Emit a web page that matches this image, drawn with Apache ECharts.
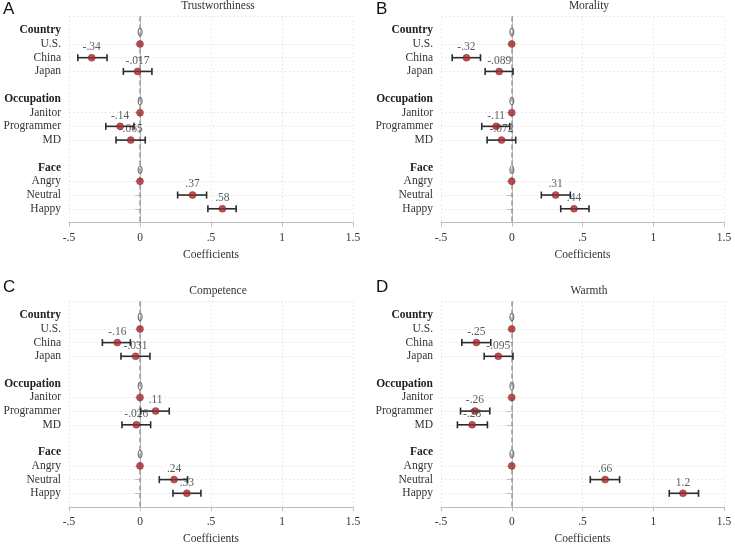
<!DOCTYPE html>
<html>
<head>
<meta charset="utf-8">
<script src="https://cdn.jsdelivr.net/npm/echarts@6/dist/echarts.min.js"></script>
<style>html,body{margin:0;padding:0;background:#fff}#c{width:735px;height:554px}</style>
</head>
<body>
<div id="c"></div>
<script>
// ---- data ----
const groups = ['Country', 'Occupation', 'Face'];
const groupItems = [['U.S.', 'China', 'Japan'], ['Janitor', 'Programmer', 'MD'], ['Angry', 'Neutral', 'Happy']];
const panelTitles = ['Trustworthiness', 'Morality', 'Competence', 'Warmth'];
const panelLetters = ['A', 'B', 'C', 'D'];
const xTickLabels = {'-0.5': '-.5', '0': '0', '0.5': '.5', '1': '1', '1.5': '1.5'};

const trustCoef   = [0, -0.34, -0.017, 0, -0.14, -0.065, 0, 0.37, 0.58];
const trustLow    = [null, -0.438, -0.117, null, -0.241, -0.169, null, 0.265, 0.478];
const trustHigh   = [null, -0.232, 0.084, null, -0.042, 0.037, null, 0.469, 0.677];
const trustLabels = ['0', '-.34', '-.017', '0', '-.14', '-.065', '0', '.37', '.58'];

const moralCoef   = [0, -0.32, -0.089, 0, -0.11, -0.072, 0, 0.31, 0.44];
const moralLow    = [null, -0.421, -0.188, null, -0.212, -0.174, null, 0.209, 0.346];
const moralHigh   = [null, -0.221, 0.009, null, -0.014, 0.028, null, 0.414, 0.546];
const moralLabels = ['0', '-.32', '-.089', '0', '-.11', '-.072', '0', '.31', '.44'];

const compCoef    = [0, -0.16, -0.031, 0, 0.11, -0.026, 0, 0.24, 0.33];
const compLow     = [null, -0.265, -0.134, null, 0.005, -0.127, null, 0.136, 0.232];
const compHigh    = [null, -0.068, 0.070, null, 0.206, 0.075, null, 0.335, 0.429];
const compLabels  = ['0', '-.16', '-.031', '0', '.11', '-.026', '0', '.24', '.33'];

const warmCoef    = [0, -0.25, -0.095, 0, -0.26, -0.28, 0, 0.66, 1.21];
const warmLow     = [null, -0.353, -0.195, null, -0.362, -0.384, null, 0.555, 1.113];
const warmHigh    = [null, -0.148, 0.009, null, -0.155, -0.172, null, 0.762, 1.32];
const warmLabels  = ['0', '-.25', '-.095', '0', '-.26', '-.28', '0', '.66', '1.2'];

// ---- build ----
const panels = [
  {coef: trustCoef, low: trustLow, high: trustHigh, labels: trustLabels},
  {coef: moralCoef, low: moralLow, high: moralHigh, labels: moralLabels},
  {coef: compCoef, low: compLow, high: compHigh, labels: compLabels},
  {coef: warmCoef, low: warmLow, high: warmHigh, labels: warmLabels}
];

const rows = [];
const headerSet = new Set(groups);
const itemSet = new Set();
const itemRow = [];
let blank = 1;
rows.push(' '.repeat(blank++));
groups.forEach((g, gi) => {
  rows.push(g);
  groupItems[gi].forEach(it => { itemRow.push(rows.length); itemSet.add(it); rows.push(it); });
  rows.push(' '.repeat(blank++));
});

const SERIF = 'Liberation Serif';
const TXT = '#333';
const FS = 11.5;

const layout = [
  {left: 69, top: 16.5, width: 284, height: 206, titleX: 218, titleY: 0, letterX: 3, letterY: 1},
  {left: 441, top: 16.5, width: 283, height: 206, titleX: 589, titleY: 0, letterX: 376, letterY: 1},
  {left: 69, top: 301.5, width: 284, height: 205.5, titleX: 218, titleY: 285, letterX: 3, letterY: 279},
  {left: 441, top: 301.5, width: 283, height: 205.5, titleX: 589, titleY: 285, letterX: 376, letterY: 279}
];

const grid = [], xAxis = [], yAxis = [], series = [], title = [], graphic = [];

layout.forEach((L, i) => {
  grid.push({left: L.left, top: L.top, width: L.width, height: L.height, containLabel: false});
  xAxis.push({
    type: 'value', gridIndex: i, min: -0.5, max: 1.5, interval: 0.5,
    axisLine: {show: true, lineStyle: {color: '#bdbdbd', width: 1}},
    axisTick: {show: true, length: 4, lineStyle: {color: '#bdbdbd'}},
    axisLabel: {margin: 9, color: TXT, fontFamily: SERIF, fontSize: FS,
      formatter: v => xTickLabels[String(v)] !== undefined ? xTickLabels[String(v)] : String(v)},
    splitLine: {show: true, lineStyle: {color: '#d9d9d9', type: [1, 3], width: 1}},
    name: 'Coefficients', nameLocation: 'middle', nameGap: 26,
    nameTextStyle: {color: TXT, fontFamily: SERIF, fontSize: FS}
  });
  yAxis.push({
    type: 'category', gridIndex: i, data: rows, inverse: true, boundaryGap: false,
    axisLine: {show: true, lineStyle: {color: '#bdbdbd', width: 1}},
    axisTick: {show: true, length: 5, interval: (idx, val) => itemSet.has(val), lineStyle: {color: '#bdbdbd'}},
    axisLabel: {interval: 0, margin: 8, color: TXT, fontFamily: SERIF, fontSize: FS,
      formatter: v => headerSet.has(v) ? '{h|' + v + '}' : v.trim(),
      rich: {h: {fontWeight: 'bold', fontFamily: SERIF, fontSize: FS, color: '#222'}}},
    splitLine: {show: true, interval: (idx, val) => idx === 0 || itemSet.has(val),
      lineStyle: {color: '#d9d9d9', type: [1, 3], width: 1}}
  });
  const P = panels[i];
  const barData = [];
  P.coef.forEach((c, k) => {
    if (P.low[k] !== null) barData.push([P.low[k], P.high[k], itemRow[k]]);
  });
  series.push({
    type: 'custom', xAxisIndex: i, yAxisIndex: i, z: 3, silent: true,
    encode: {x: [0, 1], y: 2},
    data: barData,
    renderItem: (params, api) => {
      const a = api.coord([api.value(0), api.value(2)]);
      const b = api.coord([api.value(1), api.value(2)]);
      const h = 3.5;
      const st = {stroke: '#2b2b2b', lineWidth: 1.6};
      return {type: 'group', children: [
        {type: 'line', shape: {x1: a[0], y1: a[1], x2: b[0], y2: b[1]}, style: st},
        {type: 'line', shape: {x1: a[0], y1: a[1] - h, x2: a[0], y2: a[1] + h}, style: st},
        {type: 'line', shape: {x1: b[0], y1: b[1] - h, x2: b[0], y2: b[1] + h}, style: st}
      ]};
    }
  });
  series.push({
    type: 'scatter', xAxisIndex: i, yAxisIndex: i, z: 5, silent: true,
    symbol: 'circle', symbolSize: 7,
    itemStyle: {color: '#a8282b', borderColor: '#7a1c1e', borderWidth: 0.5},
    data: P.coef.map((c, k) => [c, itemRow[k]]),
    label: {show: true, position: 'top', distance: 1, color: TXT, fontFamily: SERIF, fontSize: FS,
      formatter: p => P.labels[p.dataIndex]},
    markLine: {
      silent: true, symbol: 'none', z: 2,
      label: {show: false},
      lineStyle: {color: '#9a9a9a', type: [5, 3], width: 1.5},
      data: [{xAxis: 0}]
    }
  });
  title.push({
    text: panelTitles[i], left: L.titleX, top: L.titleY, textAlign: 'center', padding: 0,
    textStyle: {color: TXT, fontFamily: SERIF, fontSize: FS, fontWeight: 'normal'}
  });
  graphic.push({
    type: 'text', left: L.letterX, top: L.letterY,
    style: {text: panelLetters[i], fill: '#111', font: '17px "Liberation Sans", Arial, sans-serif'}
  });
});

const chart = echarts.init(document.getElementById('c'), null, {renderer: 'canvas'});
chart.setOption({
  backgroundColor: '#fff',
  animation: false,
  title, grid, xAxis, yAxis, series, graphic
});
</script>
</body>
</html>
